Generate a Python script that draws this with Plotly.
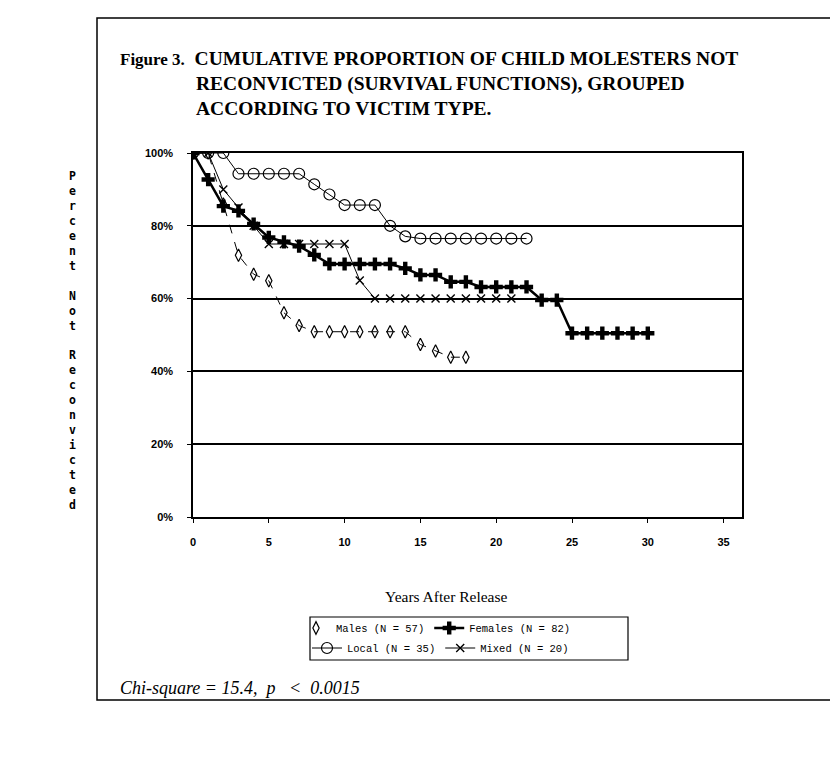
import plotly.graph_objects as go

# ---- data ----
males_years = [0, 1, 2, 3, 4, 5, 6, 7, 8, 9, 10, 11, 12, 13, 14, 15, 16, 17, 18]
males_pct = [100, 100, 86.0, 71.9, 66.7, 64.9, 56.1, 52.6, 50.9, 50.9, 50.9, 50.9,
             50.9, 50.9, 50.9, 47.4, 45.6, 43.9, 43.9]

females_years = [0, 1, 2, 3, 4, 5, 6, 7, 8, 9, 10, 11, 12, 13, 14, 15, 16, 17, 18,
                 19, 20, 21, 22, 23, 24, 25, 26, 27, 28, 29, 30]
females_pct = [100, 92.7, 85.4, 84.1, 80.5, 76.8, 75.6, 74.4, 72.0, 69.5, 69.5, 69.5,
               69.5, 69.5, 68.3, 66.5, 66.5, 64.6, 64.6, 63.2, 63.2, 63.2, 63.2,
               59.6, 59.6, 50.5, 50.5, 50.5, 50.5, 50.5, 50.5]

local_years = [0, 1, 2, 3, 4, 5, 6, 7, 8, 9, 10, 11, 12, 13, 14, 15, 16, 17, 18,
               19, 20, 21, 22]
local_pct = [100, 100, 100, 94.3, 94.3, 94.3, 94.3, 94.3, 91.4, 88.6, 85.7, 85.7,
             85.7, 80.0, 77.1, 76.5, 76.5, 76.5, 76.5, 76.5, 76.5, 76.5, 76.5]

mixed_years = [0, 1, 2, 3, 4, 5, 6, 7, 8, 9, 10, 11, 12, 13, 14, 15, 16, 17, 18,
               19, 20, 21]
mixed_pct = [100, 100, 90, 85, 80, 75, 75, 75, 75, 75, 75, 65, 60, 60, 60, 60, 60,
             60, 60, 60, 60, 60]

x_ticks = [0, 5, 10, 15, 20, 25, 30, 35]
y_ticks = [0, 20, 40, 60, 80, 100]

# ---- geometry (screen pixels; the page body adds an 8px offset) ----
OFF = 8
W, H = 838 - OFF, 762 - OFF
PLOT_X0, PLOT_X1, PLOT_Y0, PLOT_Y1 = 193, 742, 153, 517   # screen px
PW, PH = PLOT_X1 - PLOT_X0, PLOT_Y1 - PLOT_Y0
L, T = PLOT_X0 - OFF, PLOT_Y0 - OFF
R, B = W - L - PW, H - T - PH


def px(x):
    return (x - PLOT_X0) / PW


def py(y):
    return (PLOT_Y1 - y) / PH


fig = go.Figure()

fig.add_trace(go.Scatter(
    x=males_years, y=males_pct, name="Males (N = 57)", mode="lines+markers",
    line=dict(color="black", width=1, dash="dash"),
    marker=dict(symbol="diamond-tall-open", size=9, color="black",
                line=dict(width=1.2, color="black")),
    showlegend=False))
# legend entry for Males shows the marker only, as in the reference
fig.add_trace(go.Scatter(
    x=[None], y=[None], name="Males (N = 57)", mode="markers",
    marker=dict(symbol="diamond-tall-open", size=9, color="black",
                line=dict(width=1.2, color="black")),
    legend="legend"))

fig.add_trace(go.Scatter(
    x=females_years, y=females_pct, name="Females (N = 82)", mode="lines+markers",
    line=dict(color="black", width=2.5),
    marker=dict(symbol="cross", size=11, color="black"),
    legend="legend"))

fig.add_trace(go.Scatter(
    x=local_years, y=local_pct, name="Local (N = 35)", mode="lines+markers",
    line=dict(color="black", width=1),
    marker=dict(symbol="circle-open", size=11, color="black",
                line=dict(width=1.2, color="black")),
    legend="legend2"))

fig.add_trace(go.Scatter(
    x=mixed_years, y=mixed_pct, name="Mixed (N = 20)", mode="lines+markers",
    line=dict(color="black", width=1),
    marker=dict(symbol="x-thin-open", size=8, color="black",
                line=dict(width=1.4, color="black")),
    legend="legend2"))

tick_font = dict(family="Liberation Sans", size=11, color="black")
legend_font = dict(family="Liberation Mono", size=10.5, color="black")

fig.update_layout(
    width=W, height=H,
    margin=dict(l=L, r=R, t=T, b=B),
    paper_bgcolor="white", plot_bgcolor="white",
    showlegend=True,
    xaxis=dict(range=[0, PW / 15.16], tickvals=x_ticks,
               ticktext=[f"<b>{v}</b>" for v in x_ticks],
               showgrid=False, zeroline=False, showline=True, linecolor="black",
               linewidth=1.5, mirror=True, ticks="outside", ticklen=4,
               tickcolor="black", tickwidth=1.2, tickfont=tick_font,
               ticklabelstandoff=10),
    yaxis=dict(range=[0, 100], tickvals=y_ticks,
               ticktext=[f"<b>{v}%</b>" for v in y_ticks],
               showgrid=True, gridcolor="black", gridwidth=1.5, zeroline=False,
               showline=True, linecolor="black", linewidth=1.5, mirror=True,
               ticks="outside", ticklen=4, tickcolor="black", tickwidth=1.2,
               tickfont=tick_font, ticklabelstandoff=12),
    legend=dict(orientation="h", x=px(296), y=py(628), xanchor="left",
                yanchor="middle", bgcolor="rgba(0,0,0,0)", borderwidth=0,
                font=legend_font, itemwidth=30,
                tracegroupgap=0, itemclick=False),
    legend2=dict(orientation="h", x=px(307), y=py(648), xanchor="left",
                 yanchor="middle", bgcolor="rgba(0,0,0,0)", borderwidth=0,
                 font=legend_font, itemwidth=30,
                 tracegroupgap=0, itemclick=False),
)

title_font = dict(family="Liberation Serif", size=19.5, color="black")
fig.add_annotation(text="<b><span style='font-size:17px'>Figure 3.</span>&nbsp;&nbsp;"
                        "CUMULATIVE PROPORTION OF CHILD MOLESTERS NOT</b>",
                   xref="paper", yref="paper", x=px(118), y=py(58),
                   xanchor="left", yanchor="middle", showarrow=False, font=title_font)
fig.add_annotation(text="<b>RECONVICTED (SURVIVAL FUNCTIONS), GROUPED</b>",
                   xref="paper", yref="paper", x=px(194), y=py(84),
                   xanchor="left", yanchor="middle", showarrow=False, font=title_font)
fig.add_annotation(text="<b>ACCORDING TO VICTIM TYPE.</b>",
                   xref="paper", yref="paper", x=px(194), y=py(108),
                   xanchor="left", yanchor="middle", showarrow=False, font=title_font)

ylabel = "Percent Not Reconvicted"
fig.add_annotation(text="<b>" + "<br>".join(ch if ch != " " else "&nbsp;" for ch in ylabel) + "</b>",
                   xref="paper", yref="paper", x=px(72), y=py(340),
                   xanchor="center", yanchor="middle", showarrow=False,
                   font=dict(family="DejaVu Sans Mono", size=11.5, color="black"))

fig.add_annotation(text="Years After Release", xref="paper", yref="paper",
                   x=px(446), y=py(596), xanchor="center", yanchor="middle",
                   showarrow=False,
                   font=dict(family="Liberation Serif", size=15.5, color="black"))

fig.add_annotation(text="<i>Chi-square = 15.4,&nbsp;&nbsp;p&nbsp;&nbsp;&nbsp;&lt;&nbsp;&nbsp;0.0015</i>",
                   xref="paper", yref="paper",
                   x=px(118), y=py(688), xanchor="left", yanchor="middle",
                   showarrow=False,
                   font=dict(family="Liberation Serif", size=18, color="black"))

# legend box and outer frame
fig.add_shape(type="rect", xref="paper", yref="paper",
              x0=px(310), x1=px(628), y0=py(660), y1=py(617),
              line=dict(color="black", width=1.2))
fig.add_shape(type="rect", xref="paper", yref="paper",
              x0=px(97), x1=px(834), y0=py(700), y1=py(18),
              line=dict(color="black", width=1.5))

fig.write_html("out.html")
